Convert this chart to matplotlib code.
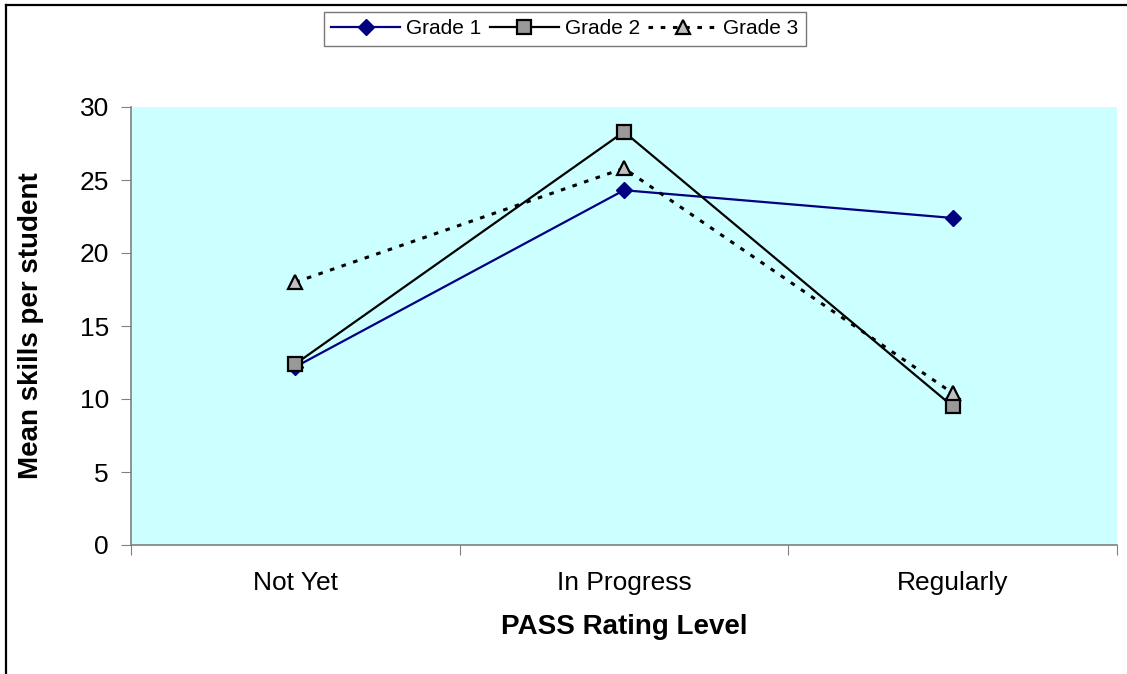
import matplotlib.pyplot as plt
from matplotlib.lines import Line2D

plt.rcParams['font.family'] = ['Liberation Sans', 'DejaVu Sans']

# mean skills per student, by PASS rating level
levels = ['Not Yet', 'In Progress', 'Regularly']
grade1 = [12.2, 24.3, 22.4]
grade2 = [12.4, 28.3, 9.5]
grade3 = [18.0, 25.8, 10.4]

fig = plt.figure(figsize=(11.27, 6.74), dpi=100)
ax = fig.add_axes([131/1127, 1 - 545/674, (1117-131)/1127, (545-107)/674])
ax.set_facecolor('#CCFFFF')

x = range(len(levels))
ax.plot(x, grade1, color='#000080', lw=1.6, marker='D', ms=8,
        mfc='#000080', mec='#000080', label='Grade 1')
ax.plot(x, grade2, color='black', lw=1.6, marker='s', ms=9.5,
        mfc='#999999', mec='black', mew=1.6, label='Grade 2')
ax.plot(x, grade3, color='black', lw=2.2, ls=(0, (1.5, 2.5)), marker='^', ms=10,
        mfc='#C0C0C0', mec='black', mew=1.6, label='Grade 3')

ax.set_xlim(-0.5, 2.5)
ax.set_ylim(0, 30)
ax.set_yticks(range(0, 31, 5))
ax.set_xticks([-0.5, 0.5, 1.5, 2.5])
ax.set_xticklabels([])
ax.set_xticks(list(x), minor=True)
ax.set_xticklabels(levels, minor=True)
ax.tick_params(axis='x', which='major', direction='out', length=7, color='#808080')
ax.tick_params(axis='x', which='minor', length=0, pad=19, labelsize=19)
ax.tick_params(axis='y', direction='out', length=7, color='#808080', pad=9, labelsize=19)

for s in ['top', 'right']:
    ax.spines[s].set_visible(False)
for s in ['left', 'bottom']:
    ax.spines[s].set_color('#808080')
    ax.spines[s].set_linewidth(1.2)

ax.set_ylabel('Mean skills per student', fontsize=20, fontweight='bold', va='center')
ax.yaxis.set_label_coords((31 - 131) / 986, 0.5)
ax.set_xlabel('PASS Rating Level', fontsize=20, fontweight='bold', va='center')
ax.xaxis.set_label_coords(0.5, (545 - 627) / 438)

leg = ax.legend(ncol=3, loc='upper center', bbox_to_anchor=(565/1127, 1 - 12/674),
                bbox_transform=fig.transFigure, fontsize=15, frameon=True,
                fancybox=False, edgecolor='#555555', handlelength=3.3,
                columnspacing=0.4, handletextpad=0.3, borderpad=0.35,
                borderaxespad=0)
leg.get_frame().set_linewidth(1.0)

# chart frame on the left and top edges
fig.add_artist(Line2D([6/1127, 6/1127], [0, 1 - 5/674], color='black', lw=1.6))
fig.add_artist(Line2D([6/1127, 1], [1 - 5/674, 1 - 5/674], color='black', lw=1.6))

fig.savefig('out.png', dpi=100)
